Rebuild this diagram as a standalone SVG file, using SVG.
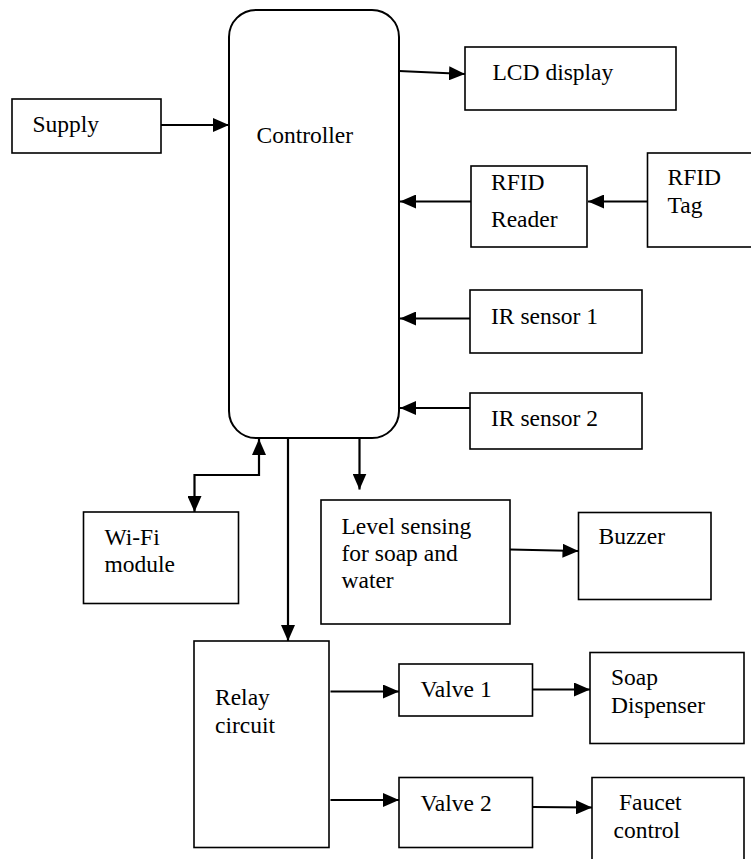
<svg xmlns="http://www.w3.org/2000/svg" width="751" height="859" viewBox="0 0 751 859">
<style>
.box{fill:#fff;stroke:#000;stroke-width:1.6}
.ctl{fill:#fff;stroke:#000;stroke-width:2}
text{font-family:"Liberation Serif",serif;font-size:23.5px;fill:#000}
.c{fill:none;stroke:#000;stroke-width:2.2}
</style>
<defs>
<marker id="ah" viewBox="0 0 16 14" refX="16" refY="7" markerWidth="16" markerHeight="14" markerUnits="userSpaceOnUse" orient="auto-start-reverse">
<path d="M0,0 L16,7 L0,14 Z" fill="#000"/>
</marker>
</defs>
<rect width="751" height="859" fill="#fff"/>
<g id="controller"><rect class="ctl" x="229" y="10" width="170" height="428" rx="27" ry="27"/><text font-family="Liberation Serif" x="256.5" y="142.5">Controller</text></g>
<g id="supply"><rect class="box" x="12" y="99" width="149" height="54"/><text font-family="Liberation Serif" x="32.5" y="131.5">Supply</text></g>
<g id="lcd"><rect class="box" x="465" y="47" width="211" height="63"/><text font-family="Liberation Serif" x="492.5" y="80">LCD display</text></g>
<g id="rfid-reader"><rect class="box" x="471" y="166" width="116" height="81"/><text font-family="Liberation Serif" x="491" y="190">RFID</text><text font-family="Liberation Serif" x="491" y="226.5">Reader</text></g>
<g id="rfid-tag"><rect class="box" x="647.5" y="153" width="110" height="94"/><text font-family="Liberation Serif" x="667.5" y="185">RFID</text><text font-family="Liberation Serif" x="667.5" y="213">Tag</text></g>
<g id="ir1"><rect class="box" x="470" y="290" width="172" height="63"/><text font-family="Liberation Serif" x="491" y="324">IR sensor 1</text></g>
<g id="ir2"><rect class="box" x="470" y="393" width="172" height="56"/><text font-family="Liberation Serif" x="491" y="426">IR sensor 2</text></g>
<g id="wifi"><rect class="box" x="83.5" y="512" width="155" height="91.5"/><text font-family="Liberation Serif" x="104.5" y="545">Wi-Fi</text><text font-family="Liberation Serif" x="104.5" y="571.5">module</text></g>
<g id="level"><rect class="box" x="321" y="500" width="189" height="124"/><text font-family="Liberation Serif" x="341.5" y="533.5">Level sensing</text><text font-family="Liberation Serif" x="341.5" y="560.5">for soap and</text><text font-family="Liberation Serif" x="341.5" y="588">water</text></g>
<g id="buzzer"><rect class="box" x="578.5" y="512.5" width="132.5" height="87"/><text font-family="Liberation Serif" x="598.5" y="544">Buzzer</text></g>
<g id="relay"><rect class="box" x="194" y="641" width="135" height="206.5"/><text font-family="Liberation Serif" x="215" y="705">Relay</text><text font-family="Liberation Serif" x="215" y="732.5">circuit</text></g>
<g id="valve1"><rect class="box" x="399" y="664" width="133.5" height="52"/><text font-family="Liberation Serif" x="420.5" y="696.5">Valve 1</text></g>
<g id="valve2"><rect class="box" x="399" y="777.5" width="133.5" height="70"/><text font-family="Liberation Serif" x="420.5" y="810.5">Valve 2</text></g>
<g id="soap"><rect class="box" x="590" y="652.5" width="154" height="91"/><text font-family="Liberation Serif" x="611" y="685">Soap</text><text font-family="Liberation Serif" x="611" y="712.5">Dispenser</text></g>
<g id="faucet"><path class="box" d="M592,862 V777.5 H744 V862"/><text font-family="Liberation Serif" x="619" y="810">Faucet</text><text font-family="Liberation Serif" x="613.5" y="838">control</text></g>
<g id="connectors">
<line class="c" x1="161" y1="125" x2="229" y2="125" marker-end="url(#ah)"/>
<line class="c" x1="399" y1="71" x2="465" y2="74" marker-end="url(#ah)"/>
<line class="c" x1="647.5" y1="201.5" x2="588" y2="201.5" marker-end="url(#ah)"/>
<line class="c" x1="471" y1="201.5" x2="400" y2="201.5" marker-end="url(#ah)"/>
<line class="c" x1="470" y1="318.5" x2="400" y2="318.5" marker-end="url(#ah)"/>
<line class="c" x1="470" y1="408" x2="400" y2="408" marker-end="url(#ah)"/>
<polyline class="c" points="259,439 259,475 194.5,475 194.5,512" marker-start="url(#ah)" marker-end="url(#ah)"/>
<line class="c" x1="288" y1="438" x2="288" y2="641" marker-end="url(#ah)"/>
<line class="c" x1="359.5" y1="438" x2="359.5" y2="489.5" marker-end="url(#ah)"/>
<line class="c" x1="510" y1="549.5" x2="578.5" y2="551" marker-end="url(#ah)"/>
<line class="c" x1="330.5" y1="691.5" x2="399" y2="691.5" marker-end="url(#ah)"/>
<line class="c" x1="330.5" y1="800" x2="399" y2="800" marker-end="url(#ah)"/>
<line class="c" x1="532.5" y1="689.5" x2="590" y2="689.5" marker-end="url(#ah)"/>
<line class="c" x1="532.5" y1="807" x2="592" y2="807.5" marker-end="url(#ah)"/>
</g>
</svg>
